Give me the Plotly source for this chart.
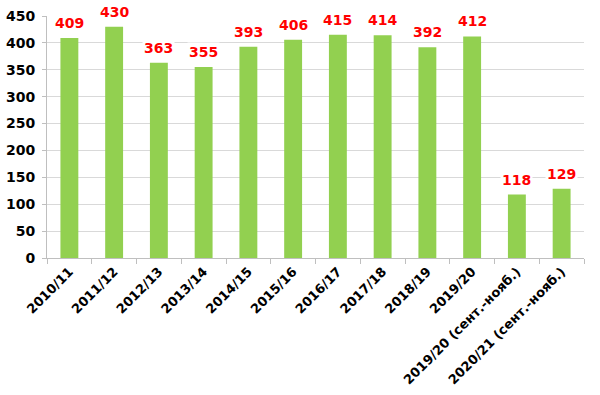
import plotly.graph_objects as go

categories = ["2010/11", "2011/12", "2012/13", "2013/14", "2014/15", "2015/16",
              "2016/17", "2017/18", "2018/19", "2019/20",
              "2019/20 (сент.-нояб.)", "2020/21 (сент.-нояб.)"]
values = [409, 430, 363, 355, 393, 406, 415, 414, 392, 412, 118, 129]
y_ticks = [0, 50, 100, 150, 200, 250, 300, 350, 400, 450]

font_family = "DejaVu Sans, Verdana, sans-serif"

fig = go.Figure()
fig.add_trace(go.Bar(
    x=categories, y=values,
    marker=dict(color="#92D050", line=dict(width=0)),
    hoverinfo="skip",
))

for c, v in zip(categories, values):
    fig.add_annotation(
        x=c, y=v, text=str(v), showarrow=False, yanchor="bottom", yshift=5,
        font=dict(family=font_family, size=14, color="#FF0000", weight="bold"),
        bgcolor="white", borderpad=1,
    )

fig.update_layout(
    width=600, height=395,
    margin=dict(l=47, r=16, t=16, b=137),
    paper_bgcolor="white", plot_bgcolor="white",
    bargap=0.6,
    showlegend=False,
    font=dict(family=font_family, size=13, color="#000000"),
)
fig.update_xaxes(
    type="category", automargin=False,
    tickangle=-45,
    tickfont=dict(family=font_family, size=13, color="black", weight="bold"),
    showline=True, linecolor="#BFBFBF", linewidth=1,
    ticks="outside", ticklen=5, tickcolor="#BFBFBF", tickson="boundaries",
    showgrid=False,
)
fig.update_yaxes(
    range=[0, 450], tickvals=y_ticks, automargin=False,
    tickfont=dict(family=font_family, size=14, color="black", weight="bold"),
    showline=True, linecolor="#BFBFBF", linewidth=1,
    showgrid=True, gridcolor="#D9D9D9", gridwidth=1,
    ticks="outside", ticklen=4, tickcolor="#BFBFBF", ticklabelstandoff=4,
    zeroline=False,
)

fig.write_html("out.html")
